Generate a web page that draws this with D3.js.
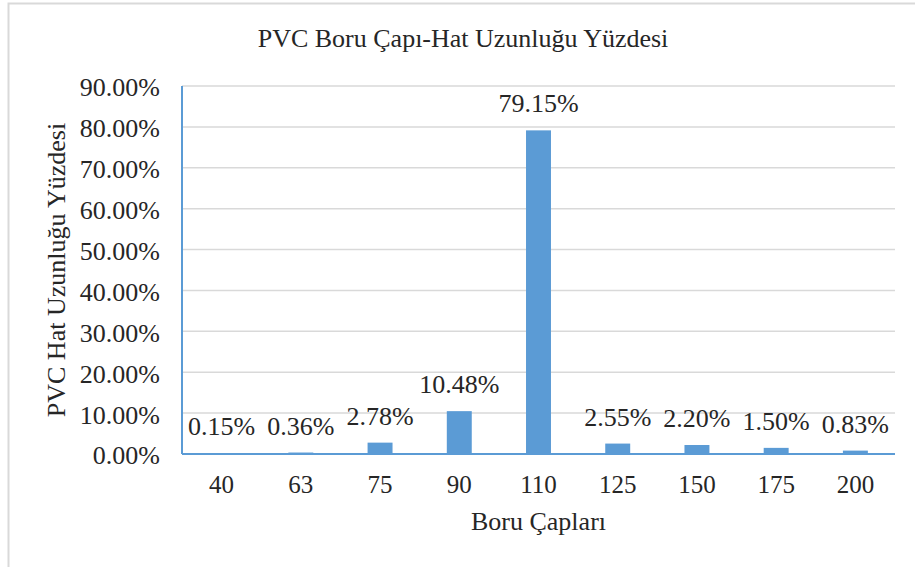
<!DOCTYPE html>
<html>
<head>
<meta charset="utf-8">
<script src="https://cdn.jsdelivr.net/npm/d3@7"></script>
<style>
  body { margin: 0; background: #fff; }
  text { font-family: "Liberation Serif", "Times New Roman", serif; fill: #262626; }
</style>
</head>
<body>
<svg width="915" height="567"></svg>
<script>
const categories = ["40", "63", "75", "90", "110", "125", "150", "175", "200"];
const values = [0.15, 0.36, 2.78, 10.48, 79.15, 2.55, 2.2, 1.5, 0.83];
const yTicks = [0, 10, 20, 30, 40, 50, 60, 70, 80, 90];
const title = "PVC Boru Çapı-Hat Uzunluğu Yüzdesi";
const xTitle = "Boru Çapları";
const yTitle = "PVC Hat Uzunluğu Yüzdesi";

var svg = d3.select("svg"),
  plotLeft = 182,
  plotRight = 895,
  plotTop = 86,
  plotBottom = 454,
  barColor = "#5b9bd5",
  gridColor = "#d9d9d9";

// chart area border
svg
  .append("rect")
  .attr("x", 8.5)
  .attr("y", 3.5)
  .attr("width", 940)
  .attr("height", 600)
  .attr("fill", "none")
  .attr("stroke", gridColor)
  .attr("stroke-width", 2);

var x = d3
  .scaleBand()
  .domain(categories)
  .range([plotLeft, plotRight])
  .paddingInner(0.685)
  .paddingOuter(0.3425);

var y = d3.scaleLinear().domain([0, 90]).range([plotBottom, plotTop]);

// gridlines
svg
  .append("g")
  .selectAll("line")
  .data(yTicks.slice(1))
  .enter()
  .append("line")
  .attr("x1", plotLeft)
  .attr("x2", plotRight)
  .attr("y1", (d) => y(d))
  .attr("y2", (d) => y(d))
  .attr("stroke", gridColor)
  .attr("stroke-width", 1.5);

// y tick labels
svg
  .append("g")
  .selectAll("text")
  .data(yTicks)
  .enter()
  .append("text")
  .attr("x", 160)
  .attr("y", (d) => y(d))
  .attr("dy", "0.4em")
  .attr("text-anchor", "end")
  .attr("font-size", "26px")
  .text((d) => d3.format(".2f")(d) + "%");

// bars
svg
  .append("g")
  .selectAll("rect")
  .data(values)
  .enter()
  .append("rect")
  .attr("x", (d, i) => x(categories[i]))
  .attr("width", x.bandwidth())
  .attr("y", (d) => y(d))
  .attr("height", (d) => plotBottom - y(d))
  .attr("fill", barColor);

// axis lines
svg
  .append("line")
  .attr("x1", plotLeft)
  .attr("x2", plotLeft)
  .attr("y1", plotTop)
  .attr("y2", plotBottom)
  .attr("stroke", barColor)
  .attr("stroke-width", 2);

svg
  .append("line")
  .attr("x1", plotLeft)
  .attr("x2", plotRight)
  .attr("y1", plotBottom)
  .attr("y2", plotBottom)
  .attr("stroke", barColor)
  .attr("stroke-width", 2);

// data labels
svg
  .append("g")
  .selectAll("text")
  .data(values)
  .enter()
  .append("text")
  .attr("x", (d, i) => x(categories[i]) + x.bandwidth() / 2)
  .attr("y", (d) => y(d) - 18)
  .attr("text-anchor", "middle")
  .attr("font-size", "26px")
  .text((d) => d3.format(".2f")(d) + "%");

// x tick labels
svg
  .append("g")
  .selectAll("text")
  .data(categories)
  .enter()
  .append("text")
  .attr("x", (d) => x(d) + x.bandwidth() / 2)
  .attr("y", plotBottom + 39)
  .attr("text-anchor", "middle")
  .attr("font-size", "25px")
  .text((d) => d);

// titles
svg
  .append("text")
  .attr("x", 463)
  .attr("y", 47)
  .attr("text-anchor", "middle")
  .attr("font-size", "26px")
  .text(title);

svg
  .append("text")
  .attr("x", (plotLeft + plotRight) / 2)
  .attr("y", 530)
  .attr("text-anchor", "middle")
  .attr("font-size", "26px")
  .text(xTitle);

svg
  .append("text")
  .attr("transform", "translate(65," + (plotTop + plotBottom) / 2 + ")rotate(-90)")
  .attr("text-anchor", "middle")
  .attr("font-size", "26px")
  .text(yTitle);
</script>
</body>
</html>
